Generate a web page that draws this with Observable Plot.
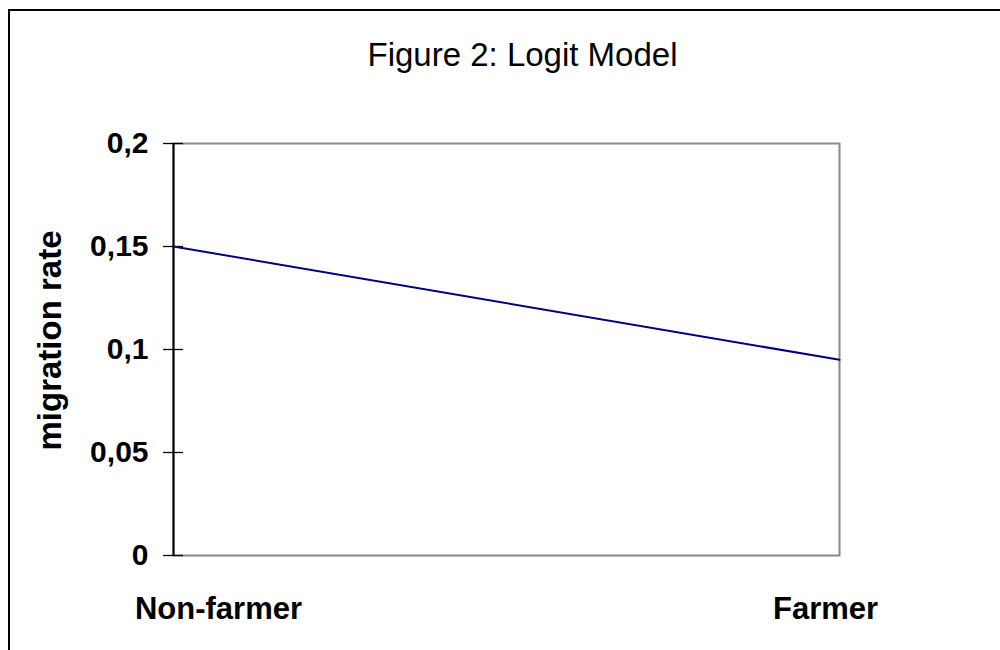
<!DOCTYPE html>
<html>
<head>
<meta charset="utf-8">
<script src="https://cdn.jsdelivr.net/npm/d3@7"></script>
<script src="https://cdn.jsdelivr.net/npm/@observablehq/plot@0.6"></script>
<style>
  html, body { margin: 0; padding: 0; background: #fff; }
  #wrap { position: relative; width: 1000px; height: 650px; overflow: hidden; font-family: "Liberation Sans", Arial, sans-serif; }
  #frame { position: absolute; left: 8px; top: 9px; width: 1100px; height: 700px; border-left: 2px solid #000; border-top: 2px solid #000; }
  #title { position: absolute; left: 0; top: 38px; width: 1045px; text-align: center; font-size: 33px; line-height: 1; color: #000; }
  #chart { position: absolute; left: 0; top: 0; }
</style>
</head>
<body>
<div id="wrap">
  <div id="frame"></div>
  <div id="chart"></div>
  <div id="title">Figure 2: Logit Model</div>
</div>
<script>
const categories = ["Non-farmer", "Farmer"];
const migrationRate = [0.15, 0.095];
const yTicks = [0, 0.05, 0.1, 0.15, 0.2];
const yLabel = "migration rate";

const data = categories.map((c, i) => ({category: c, rate: migrationRate[i]}));
const fmt = d => String(d).replace(".", ",");

const chart = Plot.plot({
  width: 1000,
  height: 650,
  marginLeft: 173,
  marginRight: 161,
  marginTop: 143,
  marginBottom: 95,
  style: {fontFamily: "'Liberation Sans', Arial, sans-serif", background: "transparent"},
  x: {type: "point", domain: categories, padding: 0, axis: null},
  y: {domain: [0, 0.2], axis: null},
  marks: [
    Plot.frame({stroke: "#888", strokeWidth: 2}),
    Plot.ruleX([categories[0]], {stroke: "#000", strokeWidth: 2}),
    Plot.axisY(yTicks, {
      tickFormat: fmt, tickSize: 20, dx: 10, tickPadding: 15,
      fontSize: 30, fontWeight: "bold", fill: "#000", stroke: "#000", strokeWidth: 1.3,
      label: null
    }),
    Plot.text([yLabel], {
      frameAnchor: "left", textAnchor: "middle", lineAnchor: "middle", rotate: -90, dx: -123, dy: -9,
      fontSize: 33, fontWeight: "bold", fill: "#000"
    }),
    Plot.axisX([categories[0]], {tickSize: 0, tickPadding: 41, dx: 45, fontSize: 31, fontWeight: "bold", fill: "#000", label: null}),
    Plot.axisX([categories[1]], {tickSize: 0, tickPadding: 41, dx: -14, fontSize: 31, fontWeight: "bold", fill: "#000", label: null}),
    Plot.line(data, {x: "category", y: "rate", stroke: "#000080", strokeWidth: 2})
  ]
});
document.getElementById("chart").appendChild(chart);
</script>
</body>
</html>
